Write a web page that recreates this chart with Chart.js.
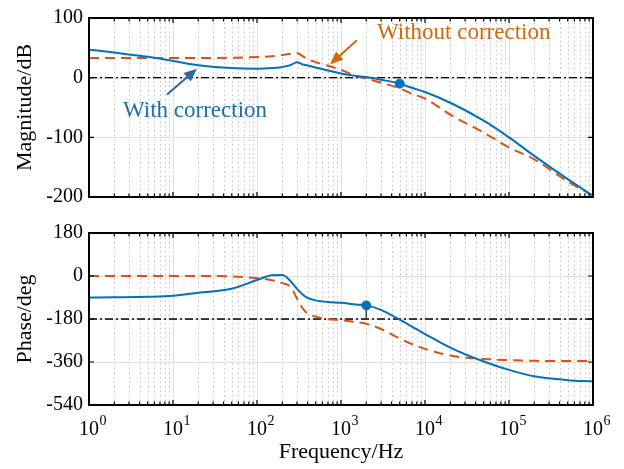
<!DOCTYPE html>
<html>
<head>
<meta charset="utf-8">
<script src="https://cdn.jsdelivr.net/npm/chart.js@4.4.1/dist/chart.umd.min.js"></script>
<style>
    html, body { margin: 0; padding: 0; background: #fff; }
    #wrap { position: relative; width: 624px; height: 469px; }
    #wrap canvas { position: absolute; left: 0; }
    #magChart { top: 0; }
    #phaseChart { top: 215px; }
</style>
</head>
<body>
<div id="wrap">
    <canvas id="magChart" width="624" height="215"></canvas>
    <canvas id="phaseChart" width="624" height="254"></canvas>
</div>
<script>
// frequency points (Hz)
const freq = [1, 2, 5, 10, 20, 50, 100, 150, 200, 250, 300, 350, 400, 500, 700, 1000, 1500, 2000, 3000, 5000, 7000, 1e4, 2e4, 5e4, 1e5, 2e5, 5e5, 1e6]

// magnitude (dB)
const magWith = [47, 42, 35, 28, 21, 16, 15, 16, 18, 21, 26, 22, 20.5, 17, 12, 7, 3, 1, -3.5, -10, -17, -24, -42, -72, -100, -131, -170, -198]
const magWithout = [33, 33, 33, 33, 33, 33.5, 34.5, 36, 38, 40, 41.5, 36, 31, 26, 20, 13, 3, -1.5, -8.5, -18, -27, -35, -62, -92, -117, -137, -174, -198]

// phase (deg)
const phaseWith = [-90, -89, -87, -83, -70, -53, -17, 3, 4, -21, -54, -77, -92, -102, -109, -112, -119, -123, -142, -183, -212, -243, -300, -358, -393, -420, -436, -441]
const phaseWithout = [0, 0, 0, 0, 0, -2, -9, -18, -30, -45, -95, -135, -157, -170, -181, -185, -193, -200, -222, -262, -285, -305, -333, -347, -352, -355, -356, -356]

// margin markers
const gmFreq = [5000]
const gmMag = [-10]
const pmFreq = [2000]
const pmPhase = [-123]

// axis ticks
const magTicks = [-200, -100, 0, 100]
const phaseTicks = [-540, -360, -180, 0, 180]
const refMag = 0
const refPhase = -180

const BLUE = '#0072BD'
const ORANGE = '#D95319'
const FONT = '"Liberation Serif", "Times New Roman", serif'

function pts(xs, ys) {
    return xs.map((f, i) => ({ x: f, y: ys[i] }))
}

// grid, inner ticks and frame, like a matlab box
const boxPlugin = {
    id: 'box',
    beforeDatasetsDraw(chart) {
        const { ctx, chartArea: a, scales: { x, y } } = chart
        ctx.save()
        ctx.lineWidth = 1
        const d0 = Math.round(Math.log10(x.min)), d1 = Math.round(Math.log10(x.max))
        for (let d = d0; d <= d1; d++) {
            for (let m = 1; m < 10; m++) {
                if (d == d1 && m > 1) break
                const px = Math.round(x.getPixelForValue(m * Math.pow(10, d))) + 0.5
                if (m == 1) {
                    ctx.strokeStyle = '#dedede'
                    ctx.setLineDash([])
                } else {
                    ctx.strokeStyle = '#c2c2c2'
                    ctx.setLineDash([1.5, 3])
                }
                ctx.beginPath()
                ctx.moveTo(px, a.top)
                ctx.lineTo(px, a.bottom)
                ctx.stroke()
            }
        }
        ctx.setLineDash([])
        ctx.strokeStyle = '#dedede'
        y.ticks.forEach(t => {
            const py = Math.round(y.getPixelForValue(t.value)) + 0.5
            ctx.beginPath()
            ctx.moveTo(a.left, py)
            ctx.lineTo(a.right, py)
            ctx.stroke()
        })
        ctx.restore()
    },
    afterDatasetsDraw(chart) {
        const { ctx, chartArea: a, scales: { x, y } } = chart
        ctx.save()
        ctx.strokeStyle = '#000'
        ctx.lineWidth = 1.2
        const d0 = Math.round(Math.log10(x.min)), d1 = Math.round(Math.log10(x.max))
        for (let d = d0; d <= d1; d++) {
            for (let m = 1; m < 10; m++) {
                if (d == d1 && m > 1) break
                const px = x.getPixelForValue(m * Math.pow(10, d))
                const len = m == 1 ? 5 : 3.5
                ctx.beginPath()
                ctx.moveTo(px, a.bottom)
                ctx.lineTo(px, a.bottom - len)
                ctx.moveTo(px, a.top)
                ctx.lineTo(px, a.top + len)
                ctx.stroke()
            }
        }
        y.ticks.forEach(t => {
            const py = y.getPixelForValue(t.value)
            ctx.beginPath()
            ctx.moveTo(a.left, py)
            ctx.lineTo(a.left + 5, py)
            ctx.moveTo(a.right, py)
            ctx.lineTo(a.right - 5, py)
            ctx.stroke()
        })
        ctx.lineWidth = 2
        ctx.strokeRect(a.left, a.top, a.right - a.left, a.bottom - a.top)
        ctx.restore()
    }
}

// 10^n labels under the phase plot
const decadeLabels = {
    id: 'decadeLabels',
    afterDraw(chart) {
        const { ctx, chartArea: a, scales: { x } } = chart
        const d0 = Math.round(Math.log10(x.min)), d1 = Math.round(Math.log10(x.max))
        ctx.save()
        ctx.fillStyle = '#000'
        ctx.textBaseline = 'alphabetic'
        for (let d = d0; d <= d1; d++) {
            const px = x.getPixelForValue(Math.pow(10, d))
            ctx.font = '20px ' + FONT
            ctx.textAlign = 'right'
            ctx.fillText('10', px + 10, a.bottom + 30)
            ctx.font = '14px ' + FONT
            ctx.textAlign = 'left'
            ctx.fillText(String(d), px + 10.5, a.bottom + 20)
        }
        ctx.restore()
    }
}

function arrow(ctx, x0, y0, x1, y1, color) {
    const ang = Math.atan2(y1 - y0, x1 - x0)
    const hl = 13, hw = 5.5
    const bx = x1 - hl * Math.cos(ang), by = y1 - hl * Math.sin(ang)
    ctx.strokeStyle = color
    ctx.fillStyle = color
    ctx.lineWidth = 2
    ctx.beginPath()
    ctx.moveTo(x0, y0)
    ctx.lineTo(bx, by)
    ctx.stroke()
    ctx.beginPath()
    ctx.moveTo(x1, y1)
    ctx.lineTo(bx + hw * Math.sin(ang), by - hw * Math.cos(ang))
    ctx.lineTo(bx - hw * Math.sin(ang), by + hw * Math.cos(ang))
    ctx.closePath()
    ctx.fill()
}

// text + arrow notes, positions in data units
const notePlugin = {
    id: 'notes',
    afterDraw(chart) {
        const { ctx, scales: { x, y } } = chart
        ctx.save()
        ctx.font = '23px ' + FONT
        ctx.textAlign = 'left'
        ctx.textBaseline = 'alphabetic'
        ctx.fillStyle = '#D0680C'
        ctx.fillText('Without correction', x.getPixelForValue(2683), y.getPixelForValue(64.6))
        arrow(ctx, x.getPixelForValue(1550), y.getPixelForValue(62.7), x.getPixelForValue(740), y.getPixelForValue(22.4), '#D0680C')
        ctx.fillStyle = '#1C6FA6'
        ctx.fillText('With correction', x.getPixelForValue(2.54), y.getPixelForValue(-66))
        arrow(ctx, x.getPixelForValue(8.48), y.getPixelForValue(-28.4), x.getPixelForValue(19.3), y.getPixelForValue(14.9), '#3465A0')
        ctx.restore()
    }
}

function yScale(ticks, title) {
    return {
        min: ticks[0],
        max: ticks[ticks.length - 1],
        afterBuildTicks: s => { s.ticks = ticks.map(v => ({ value: v })) },
        afterFit: s => { s.width = 89 },
        grid: { display: false, drawTicks: false, tickLength: 0 },
        border: { display: false },
        ticks: { padding: 6, color: '#000', font: { family: FONT, size: 20 } },
        title: { display: true, text: title, color: '#000', padding: 12, font: { family: FONT, size: 22 } }
    }
}

function refLine(v) {
    return {
        data: [{ x: freq[0], y: v }, { x: freq[freq.length - 1], y: v }],
        borderColor: '#000',
        borderWidth: 1.3,
        borderDash: [8, 3, 2, 3],
        pointRadius: 0,
        order: 4
    }
}

function curve(ys, color, dashed) {
    return {
        data: pts(freq, ys),
        borderColor: color,
        borderWidth: 2,
        borderDash: dashed ? [10, 6] : [],
        pointRadius: 0,
        cubicInterpolationMode: 'monotone',
        order: dashed ? 3 : 2
    }
}

const common = {
    responsive: false,
    animation: false,
    events: [],
    plugins: { legend: { display: false }, tooltip: { enabled: false } }
}

new Chart(document.getElementById('magChart'), {
    type: 'line',
    data: {
        datasets: [
            refLine(refMag),
            curve(magWithout, ORANGE, true),
            curve(magWith, BLUE, false),
            { data: pts(gmFreq, gmMag), showLine: false, pointRadius: 4.5, pointBackgroundColor: BLUE, pointBorderColor: BLUE, order: 0 }
        ]
    },
    options: Object.assign({}, common, {
        layout: { padding: { top: 8, right: 31, bottom: 6, left: 0 } },
        scales: {
            x: { type: 'logarithmic', min: 1, max: 1e6, display: false },
            y: yScale(magTicks, 'Magnitude/dB')
        }
    }),
    plugins: [boxPlugin, notePlugin]
})

new Chart(document.getElementById('phaseChart'), {
    type: 'line',
    data: {
        datasets: [
            refLine(refPhase),
            curve(phaseWithout, ORANGE, true),
            curve(phaseWith, BLUE, false),
            { data: [{ x: pmFreq[0], y: pmPhase[0] }, { x: pmFreq[0], y: refPhase }], borderColor: '#404040', borderWidth: 1.5, pointRadius: 0, order: 1 },
            { data: pts(pmFreq, pmPhase), showLine: false, pointRadius: 4.5, pointBackgroundColor: BLUE, pointBorderColor: BLUE, order: 0 }
        ]
    },
    options: Object.assign({}, common, {
        layout: { padding: { top: 13, right: 31, bottom: 0, left: 0 } },
        scales: {
            x: {
                type: 'logarithmic', min: 1, max: 1e6,
                afterFit: s => { s.height = 64 },
                grid: { display: false },
                border: { display: false },
                ticks: { display: false },
                title: { display: true, text: 'Frequency/Hz', color: '#000', padding: { top: 0, bottom: 4 }, font: { family: FONT, size: 22 } }
            },
            y: yScale(phaseTicks, 'Phase/deg')
        }
    }),
    plugins: [boxPlugin, decadeLabels]
})
</script>
</body>
</html>
